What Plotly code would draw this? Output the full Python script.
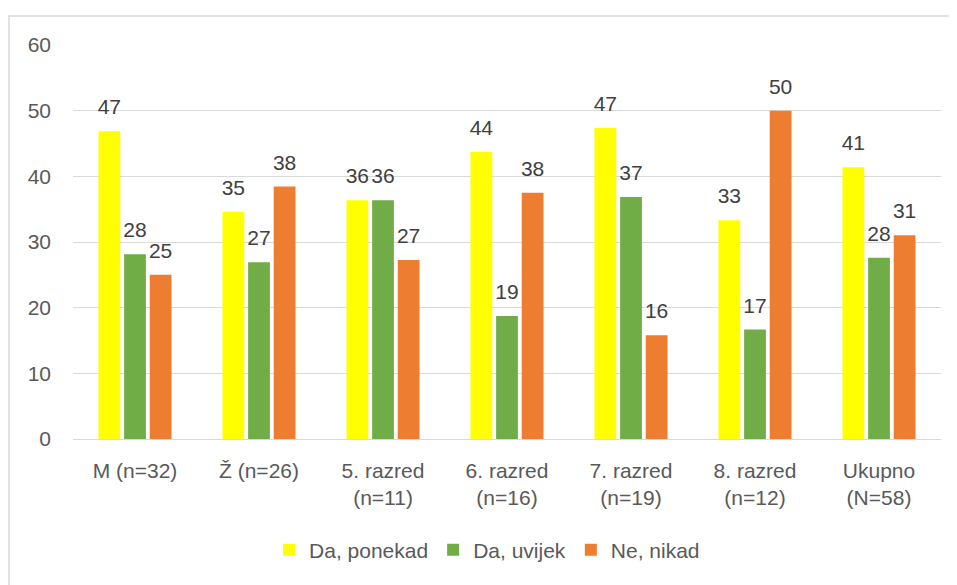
import plotly.graph_objects as go

categories = ["M (n=32)", "Ž (n=26)", "5. razred<br>(n=11)", "6. razred<br>(n=16)",
              "7. razred<br>(n=19)", "8. razred<br>(n=12)", "Ukupno<br>(N=58)"]
da_ponekad = [46.88, 34.62, 36.36, 43.75, 47.37, 33.33, 41.38]
da_uvijek = [28.13, 26.92, 36.36, 18.75, 36.84, 16.67, 27.59]
ne_nikad = [25.00, 38.46, 27.27, 37.50, 15.79, 50.00, 31.03]
series_names = ["Da, ponekad", "Da, uvijek", "Ne, nikad"]
colors = ["#FFFF00", "#70AD47", "#ED7D31"]
y_ticks = [0, 10, 20, 30, 40, 50, 60]

FONT = "Liberation Sans"
W, H = 957, 585
# page has an 8px body margin; margins compensate for it
ML, MR, MT, MB = 65, 24, 37, 154
BARGAP = 0.38

fig = go.Figure()
for name, vals, col in zip(series_names, [da_ponekad, da_uvijek, ne_nikad], colors):
    fig.add_trace(go.Bar(x=categories, y=vals, name=name, marker_color=col,
                         marker_line_width=0, hoverinfo="skip"))
for name, vals in zip(series_names, [da_ponekad, da_uvijek, ne_nikad]):
    fig.add_trace(go.Scatter(x=categories, y=vals, mode="markers+text", showlegend=False,
                             marker=dict(size=17, color="rgba(0,0,0,0)"),
                             text=[f"{v:.0f}" for v in vals], textposition="top center",
                             textfont=dict(family=FONT, size=21, color="#404040"),
                             cliponaxis=False, hoverinfo="skip"))

pw = W - ML - MR
ph = H - MT - MB
bx0 = (1 - ML) / pw
by1 = (H - MB - 8) / ph

fig.update_layout(
    width=W, height=H,
    margin=dict(l=ML, r=MR, t=MT, b=MB),
    paper_bgcolor="white", plot_bgcolor="white",
    barmode="group", bargap=BARGAP, bargroupgap=0.15,
    scattermode="group", scattergap=BARGAP,
    font=dict(family=FONT, size=21, color="#595959"),
    showlegend=True,
    legend=dict(orientation="h", x=0.477, xanchor="center", y=-0.282, yanchor="middle",
                font=dict(family=FONT, size=21, color="#595959"),
                bgcolor="rgba(0,0,0,0)", itemclick=False),
    xaxis=dict(showgrid=False, showline=False, zeroline=False, ticks="",
               tickfont=dict(family=FONT, size=21, color="#595959"),
               ticklabelstandoff=17, fixedrange=True),
    yaxis=dict(range=[0, 60], tickvals=y_ticks, showgrid=True, gridcolor="#d9d9d9",
               gridwidth=1.3, zeroline=True, zerolinecolor="#d9d9d9", zerolinewidth=1.3,
               showline=False, ticks="",
               tickfont=dict(family=FONT, size=21, color="#595959"),
               ticklabelstandoff=21, fixedrange=True),
    shapes=[dict(type="rect", xref="paper", yref="paper", x0=bx0, x1=1.2,
                 y0=-0.6, y1=by1, line=dict(color="#d9d9d9", width=1.5),
                 fillcolor="rgba(0,0,0,0)", layer="below")],
)

fig.write_html("out.html")
